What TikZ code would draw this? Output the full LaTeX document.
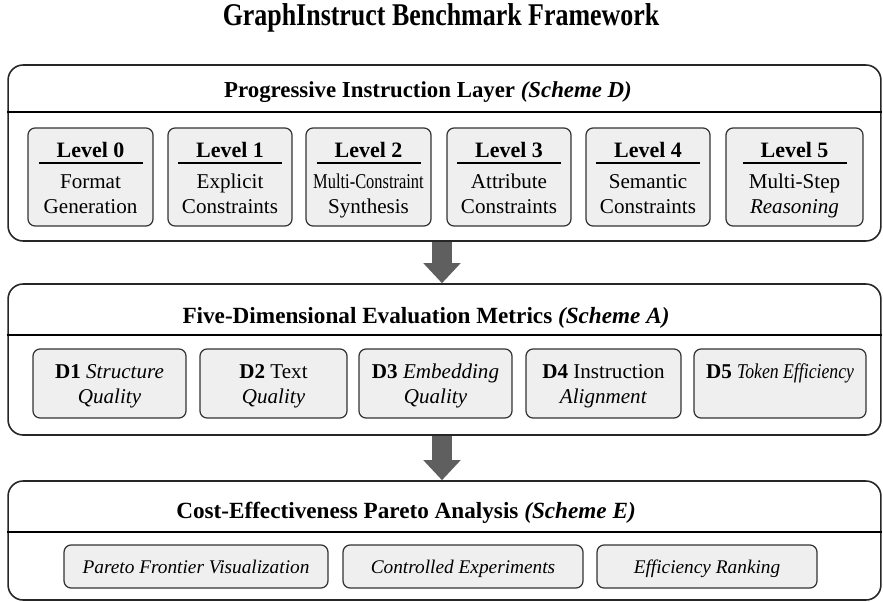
\documentclass[tikz,border=0pt]{standalone}
\usepackage{fontspec}
\setmainfont{Liberation Serif}
\usetikzlibrary{arrows.meta}

\definecolor{boxgray}{RGB}{239,239,239}
\definecolor{arrowgray}{RGB}{95,95,95}
\tikzset{
  layer/.style={draw=black!85,line width=0.9pt,rounded corners=0.3cm,fill=white},
  subbox/.style={draw=black!80,line width=0.7pt,rounded corners=0.14cm,fill=boxgray},
  layertitle/.style={font=\fontsize{13.2}{15}\selectfont\bfseries,anchor=base},
  boxtext/.style={font=\fontsize{12}{14}\selectfont,anchor=base},
  flowarrow/.style={draw=arrowgray,line width=0.4cm,-{Triangle[width=0.72cm,length=0.4cm]}}
}

\begin{document}
\begin{tikzpicture}[x=0.02cm,y=-0.02cm]
\useasboundingbox (0,0) rectangle (883,602);
\node[font=\fontsize{18}{22}\selectfont\bfseries,anchor=base] (title) at (441,25) {\scalebox{0.82}[1]{GraphInstruct Benchmark Framework}};

\node[layer,minimum width=17.46cm,minimum height=3.52cm] (schemeD) at (444.5,153) {};
\node[layer,minimum width=17.46cm,minimum height=3.02cm] (schemeA) at (444.5,359.5) {};
\node[layer,minimum width=17.46cm,minimum height=2.38cm] (schemeE) at (444.5,540.5) {};
\draw[line width=0.8pt] (schemeD.west |- 0,112) -- (schemeD.east |- 0,112);
\draw[line width=0.8pt] (schemeA.west |- 0,335) -- (schemeA.east |- 0,335);
\draw[line width=0.8pt] (schemeE.west |- 0,532) -- (schemeE.east |- 0,532);
\node[layertitle,font=\fontsize{13}{15}\selectfont\bfseries] (titleD) at (428,97) {Progressive Instruction Layer \textit{(Scheme D)}};
\node[layertitle] (titleA) at (426,323) {Five-Dimensional Evaluation Metrics \textit{(Scheme A)}};
\node[layertitle] (titleE) at (406,518) {Cost-Effectiveness Pareto Analysis \textit{(Scheme E)}};

\draw[flowarrow] ([xshift=-0.05cm]schemeD.south) -- ([xshift=-0.05cm]schemeA.north);
\draw[flowarrow] ([xshift=-0.05cm]schemeA.south) -- ([xshift=-0.05cm]schemeE.north);

\foreach \n/\x/\w/\a/\b in {0/90.5/2.5/Format/Generation,
    1/230/2.48/Explicit/Constraints,
    2/368.5/2.5/{\scalebox{0.78}[1]{Multi-Constraint}}/Synthesis,
    3/509/2.48/Attribute/Constraints,
    4/648/2.48/Semantic/Constraints,
    5/794.5/2.74/Multi-Step/\textit{Reasoning}}
{
  \node[subbox,minimum width=\w cm,minimum height=1.96cm] (level\n) at (\x,177) {};
  \node[boxtext,font=\fontsize{12.5}{14}\selectfont\bfseries] (level\n h) at (\x,157) {Level \n};
  \draw[line width=0.6pt] (\x-52,163) -- (\x+52,163);
  \node[boxtext] (level\n a) at (\x,188) {\a};
  \node[boxtext] (level\n b) at (\x,213) {\b};
}

\foreach \n/\x/\w/\a/\b in {1/109.5/3.06/\textit{Structure}/\textit{Quality},
    2/273.5/2.94/Text/\textit{Quality},
    3/435.5/3.06/\textit{Embedding}/\textit{Quality},
    4/603.5/3.1/Instruction/\textit{Alignment},
    5/780/3.44/{\scalebox{0.84}[1]{\textit{Token Efficiency}}}/{}}
{
  \node[subbox,minimum width=\w cm,minimum height=1.38cm] (dim\n) at (\x,383.5) {};
  \node[boxtext] (dim\n a) at (\x,378) {\textbf{D\n} \a};
  \node[boxtext] (dim\n b) at (\x,403) {\b};
}

\foreach \n/\x/\w/\t in {1/196/5.28/Pareto Frontier Visualization,
    2/463/4.8/Controlled Experiments,
    3/707/4.4/Efficiency Ranking}
{
  \node[subbox,minimum width=\w cm,minimum height=0.86cm] (pareto\n) at (\x,566.5) {};
  \node[boxtext,font=\fontsize{11}{13}\selectfont] (pareto\n t) at (\x,573) {\textit{\t}};
}
\end{tikzpicture}
\end{document}
